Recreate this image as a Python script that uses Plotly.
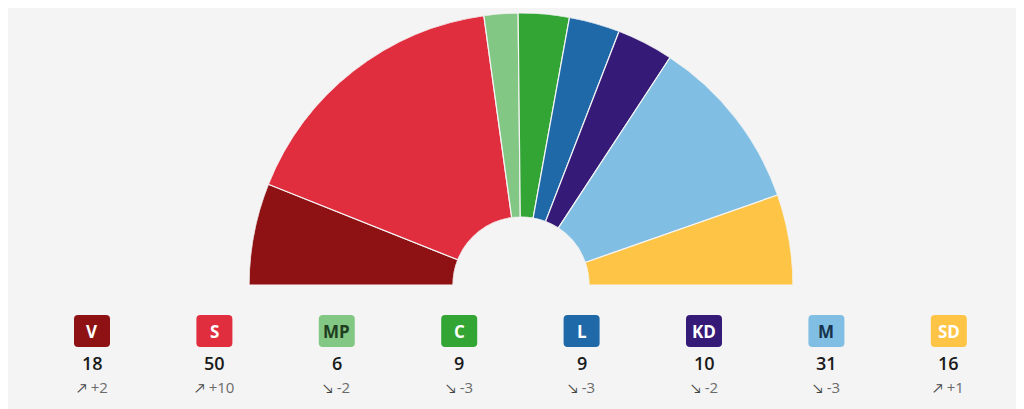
import plotly.graph_objects as go

parties = ["V", "S", "MP", "C", "L", "KD", "M", "SD"]
seats = [18, 50, 6, 9, 9, 10, 31, 16]
changes = ["+2", "+10", "-2", "-3", "-3", "-2", "-3", "+1"]
colors = ["#8e1214", "#e02e3e", "#83c784", "#32a535", "#1f69a9", "#351b77", "#80bfe3", "#fec446"]
label_colors = ["#ffffff", "#ffffff", "#1f3f1f", "#ffffff", "#ffffff", "#ffffff", "#17334d", "#ffffff"]

# page has 8px body margin; figure coords = page coords - 8
OFF = 8
W, H = 1024 - OFF, 409 - OFF
total = sum(seats)

thetas, widths = [], []
cum = 0
for s in seats:
    widths.append(s / total * 180.0)
    thetas.append(180.0 - (cum + s / 2) / total * 180.0)
    cum += s

fig = go.Figure()
fig.add_trace(go.Barpolar(
    r=[1] * len(seats), theta=thetas, width=widths,
    marker=dict(color=colors, line=dict(color="#f4f4f4", width=1.2)),
    hoverinfo="skip", showlegend=False, subplot="polar",
))

cx, cy, R = 521 - OFF, 285 - OFF, 272
fig.update_layout(
    width=W, height=H,
    margin=dict(l=0, r=0, t=0, b=0),
    paper_bgcolor="#f4f4f4",
    plot_bgcolor="rgba(0,0,0,0)",
    showlegend=False,
    polar=dict(
        domain=dict(x=[(cx - R) / W, (cx + R) / W], y=[1 - cy / H, 1 - (cy - R) / H]),
        sector=[0, 180], hole=0.25, bgcolor="rgba(0,0,0,0)",
        radialaxis=dict(visible=False, range=[0, 1]),
        angularaxis=dict(visible=False, direction="counterclockwise", rotation=0),
        barmode="overlay", bargap=0,
    ),
    xaxis=dict(range=[0, W], visible=False, fixedrange=True, domain=[0, 1]),
    yaxis=dict(range=[H, 0], visible=False, fixedrange=True, domain=[0, 1]),
)

shapes = []


def rrect(x0, y0, x1, y1, r):
    return (f"M {x0+r},{y0} L {x1-r},{y0} Q {x1},{y0} {x1},{y0+r} L {x1},{y1-r} "
            f"Q {x1},{y1} {x1-r},{y1} L {x0+r},{y1} Q {x0},{y1} {x0},{y1-r} "
            f"L {x0},{y0+r} Q {x0},{y0} {x0+r},{y0} Z")


annotations = []
font_family = "Open Sans, Lato, sans-serif"
for i, p in enumerate(parties):
    x = 92 - OFF + i * 122.4
    bw = 36
    shapes.append(dict(type="path", xref="x", yref="y",
                       path=rrect(x - bw / 2, 315 - OFF, x + bw / 2, 347 - OFF, 4),
                       fillcolor=colors[i], line=dict(width=0), layer="above"))
    annotations.append(dict(x=x, y=331 - OFF, xref="x", yref="y", text=p, showarrow=False,
                            font=dict(family=font_family, size=17, color=label_colors[i], weight=700),
                            xanchor="center", yanchor="middle"))
    annotations.append(dict(x=x, y=363 - OFF, xref="x", yref="y", text=str(seats[i]), showarrow=False,
                            font=dict(family=font_family, size=18, color="#1a1a1a", weight=600),
                            xanchor="center", yanchor="middle"))
    arrow = "↗" if changes[i].startswith("+") else "↘"
    annotations.append(dict(x=x, y=387 - OFF, xref="x", yref="y",
                            text=f"<span style='font-size:13px;color:#444'>{arrow}</span> {changes[i]}",
                            showarrow=False,
                            font=dict(family=font_family, size=15, color="#6b6b6b"),
                            xanchor="center", yanchor="middle"))

fig.update_layout(shapes=shapes, annotations=annotations)
fig.write_html("out.html")
